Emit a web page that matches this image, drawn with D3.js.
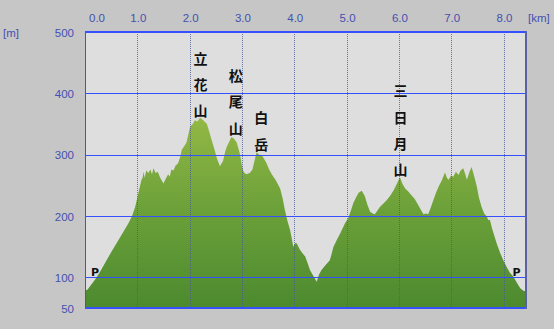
<!DOCTYPE html>
<html><head><meta charset="utf-8">
<script src="https://cdn.jsdelivr.net/npm/d3@7"></script>
<style>
html,body{margin:0;padding:0;background:#c6c6c6;}
svg{display:block;}
</style></head>
<body><svg id="c" width="554" height="329"></svg>
<script>
const distKm = [0.00,0.05,0.10,0.19,0.28,0.38,0.50,0.64,0.74,0.83,0.90,0.96,1.02,1.08,1.10,1.12,1.14,1.17,1.21,1.25,1.28,1.31,1.35,1.39,1.44,1.50,1.55,1.59,1.62,1.65,1.69,1.73,1.78,1.82,1.85,1.90,1.94,1.98,2.01,2.06,2.10,2.15,2.20,2.26,2.33,2.38,2.42,2.47,2.52,2.58,2.64,2.68,2.71,2.76,2.80,2.85,2.90,2.96,3.00,3.03,3.08,3.15,3.20,3.24,3.28,3.33,3.38,3.43,3.47,3.52,3.57,3.65,3.73,3.78,3.82,3.87,3.92,3.96,3.98,4.02,4.05,4.10,4.15,4.21,4.26,4.30,4.36,4.43,4.47,4.52,4.60,4.68,4.72,4.75,4.82,4.88,4.97,5.03,5.08,5.13,5.18,5.23,5.29,5.35,5.40,5.45,5.50,5.54,5.60,5.64,5.70,5.77,5.84,5.90,5.96,6.02,6.07,6.12,6.18,6.24,6.30,6.37,6.42,6.47,6.52,6.56,6.61,6.66,6.71,6.76,6.82,6.88,6.92,6.95,7.00,7.04,7.09,7.14,7.18,7.23,7.27,7.30,7.35,7.39,7.44,7.49,7.53,7.58,7.63,7.68,7.71,7.74,7.78,7.81,7.87,7.94,8.00,8.06,8.12,8.19,8.25,8.32,8.38,8.43];
const elevM = [78,80,86,96,108,123,141,161,175,188,200,215,237,259,262,272,262,274,270,276,268,278,270,272,262,253,262,268,264,276,274,282,286,296,308,314,320,335,346,350,356,354,360,356,350,336,324,310,294,281,290,305,313,322,329,326,320,302,282,272,268,270,276,290,304,300,299,292,286,276,268,258,245,228,210,192,177,160,150,156,155,146,140,134,122,112,103,93,104,112,120,128,140,150,162,172,188,196,208,221,230,238,241,232,218,207,204,203,210,215,220,226,234,242,252,263,252,245,240,234,228,218,210,203,204,203,214,226,238,248,258,271,262,259,266,264,272,267,274,278,268,259,272,280,265,248,230,215,204,199,193,194,180,172,155,139,127,117,108,101,92,82,78,77];
const xTicks = [0,1,2,3,4,5,6,7,8];
const xTickLabels = ["0.0","1.0","2.0","3.0","4.0","5.0","6.0","7.0","8.0"];
const yTicks = [50,100,200,300,400,500];
const peakNames = ["立花山","松尾山","白岳","三日月山"];
const peakKm = [2.21,2.88,3.37,6.03];
const peakTopM = [458,430,361,405];
const startEndKm = [0.19,8.25];
const startEndLabel = ["P","P"];

const svg = d3.select("#c");
const L=85,R=526,T=32,B=308;
const x = d3.scaleLinear().domain([0,8.43]).range([L,R]);
const y = d3.scaleLinear().domain([50,500]).range([B,T]);

svg.append("rect").attr("x",L).attr("y",T).attr("width",R-L).attr("height",B-T).attr("fill","#dedede");

const defs = svg.append("defs");
const g = defs.append("linearGradient").attr("id","grn").attr("gradientUnits","userSpaceOnUse")
  .attr("x1",0).attr("x2",0).attr("y1",y(360)).attr("y2",B);
g.append("stop").attr("offset","0%").attr("stop-color","#93b845");
g.append("stop").attr("offset","45%").attr("stop-color","#6ea23a");
g.append("stop").attr("offset","100%").attr("stop-color","#4c8a2f");

const data = distKm.map((d,i)=>({k:d,e:elevM[i]}));
const area = d3.area().x(d=>x(d.k)).y0(B).y1(d=>y(d.e));
svg.append("path").datum(data).attr("d",area).attr("fill","url(#grn)");

// vertical dotted grid
svg.append("g").selectAll("line").data(xTicks.slice(1)).join("line")
  .attr("x1",d=>Math.round(x(d))+0.5).attr("x2",d=>Math.round(x(d))+0.5)
  .attr("y1",T).attr("y2",B)
  .attr("stroke","#4a5a9a").attr("stroke-width",1).attr("stroke-dasharray","1,1").attr("opacity",0.8);
// horizontal grid
svg.append("g").selectAll("line").data(yTicks.filter(d=>d>50&&d<500)).join("line")
  .attr("x1",L).attr("x2",R).attr("y1",d=>Math.round(y(d))+0.5).attr("y2",d=>Math.round(y(d))+0.5)
  .attr("stroke","#3450ff").attr("stroke-width",1);

// borders
svg.append("line").attr("x1",L).attr("x2",R).attr("y1",T).attr("y2",T).attr("stroke","#3450ff").attr("stroke-width",2);
svg.append("line").attr("x1",L).attr("x2",R+1).attr("y1",B).attr("y2",B).attr("stroke","#3450ff").attr("stroke-width",2);
svg.append("line").attr("x1",L+0.5).attr("x2",L+0.5).attr("y1",T).attr("y2",B).attr("stroke","#3450ff").attr("stroke-width",1);
svg.append("line").attr("x1",R).attr("x2",R).attr("y1",T-1).attr("y2",B+1).attr("stroke","#5a62a0").attr("stroke-width",2);

const lblFont = "'Liberation Sans', Arial, sans-serif";
const blue = "#4450b0";
// x labels
svg.append("g").selectAll("text").data(xTicks).join("text")
  .attr("x",(d,i)=> i===0 ? x(d)+12 : x(d)+1).attr("y",22)
  .attr("text-anchor","middle").attr("font-family",lblFont).attr("font-size",11.5)
  .attr("fill",blue).text((d,i)=>xTickLabels[i]);
svg.append("text").attr("x",528).attr("y",22).attr("font-family",lblFont).attr("font-size",11.5).attr("fill",blue).text("[km]");
// y labels
svg.append("g").selectAll("text").data(yTicks).join("text")
  .attr("x",74).attr("y",d=>y(d)+4.5).attr("text-anchor","end")
  .attr("font-family",lblFont).attr("font-size",11.5).attr("fill",blue).text(d=>d);
svg.append("text").attr("x",3).attr("y",37).attr("font-family",lblFont).attr("font-size",11.5).attr("fill",blue).text("[m]");

// peak names (vertical)
const pk = svg.append("g");
peakNames.forEach((nm,i)=>{
  Array.from(nm).forEach((ch,j)=>{
    pk.append("text").attr("x",x(peakKm[i])).attr("y",y(peakTopM[i])+j*26.3)
      .attr("text-anchor","middle").attr("dominant-baseline","central")
      .attr("font-family","'Noto Sans CJK JP', sans-serif").attr("font-weight","bold")
      .attr("font-size",14).attr("fill","#111").text(ch);
  });
});
// P markers
svg.append("g").selectAll("text").data(startEndKm).join("text")
  .attr("x",d=>x(d)).attr("y",276).attr("text-anchor","middle")
  .attr("font-family","'DejaVu Sans', sans-serif").attr("font-weight","bold").attr("font-size",11)
  .attr("fill","#111").text((d,i)=>startEndLabel[i]);
</script></body></html>
